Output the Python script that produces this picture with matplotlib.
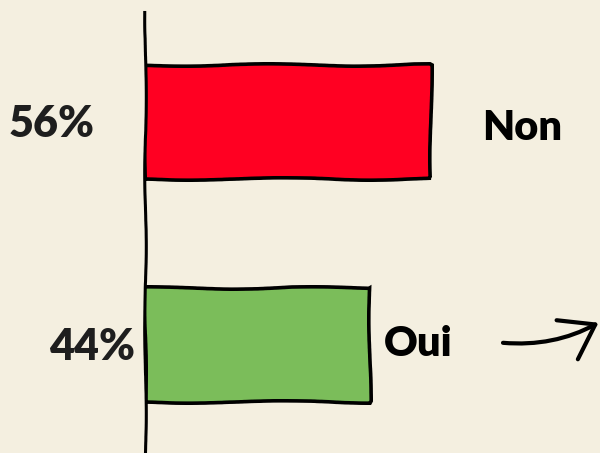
import matplotlib
matplotlib.use("Agg")
import matplotlib.pyplot as plt

categories = ["Oui", "Non"]
values = [44, 56]
value_labels = ["44%", "56%"]
colors = ["#7bbd5a", "#ff0022"]

BG = "#f4efe0"
plt.rcParams['font.family'] = ['Lato', 'DejaVu Sans']

fig = plt.figure(figsize=(6, 4.53), dpi=100, facecolor=BG)
ax = fig.add_axes([145/600, 0, 455/600, 441/453])
ax.set_facecolor(BG)
ax.set_xlim(0, 455/5.107)
ax.set_ylim(-0.484, 1.493)

ypos = [0, 1]
bars = ax.barh(ypos, values, height=0.515, color=colors, edgecolor="black",
               linewidth=2.6, zorder=3)
for b in bars:
    b.set_sketch_params(scale=1.2, length=220, randomness=3)

for s in ["top", "right", "bottom"]:
    ax.spines[s].set_visible(False)
ax.spines["left"].set_linewidth(2.2)
ax.spines["left"].set_sketch_params(scale=0.8, length=200, randomness=3)
ax.spines["left"].set_zorder(4)
ax.set_xticks([])
ax.set_yticks([])

# value labels (left of axis)
ax.text(-9.8, 0.99, value_labels[1], ha="right", va="center", fontsize=31,
        fontweight="heavy", color="#1e1e1e", clip_on=False)
ax.text(-1.9, -0.01, value_labels[0], ha="right", va="center", fontsize=31,
        fontweight="heavy", color="#1e1e1e", clip_on=False)

# category labels
ax.text(66, 0.975, categories[1], ha="left", va="center", fontsize=30,
        fontweight="heavy", color="black")
ax.text(46.8, 0.005, categories[0], ha="left", va="center", fontsize=30,
        fontweight="heavy", color="black")

# arrow
ax.annotate("", xy=(88.8, 0.10), xytext=(70.1, 0.01),
            arrowprops=dict(arrowstyle="->,head_length=2.3,head_width=1.6",
                            color="black", lw=3.0,
                            connectionstyle="arc3,rad=0.15",
                            shrinkA=0, shrinkB=0, capstyle="round",
                            joinstyle="round"),
            annotation_clip=False)

fig.savefig("out.png", dpi=100, facecolor=BG)
